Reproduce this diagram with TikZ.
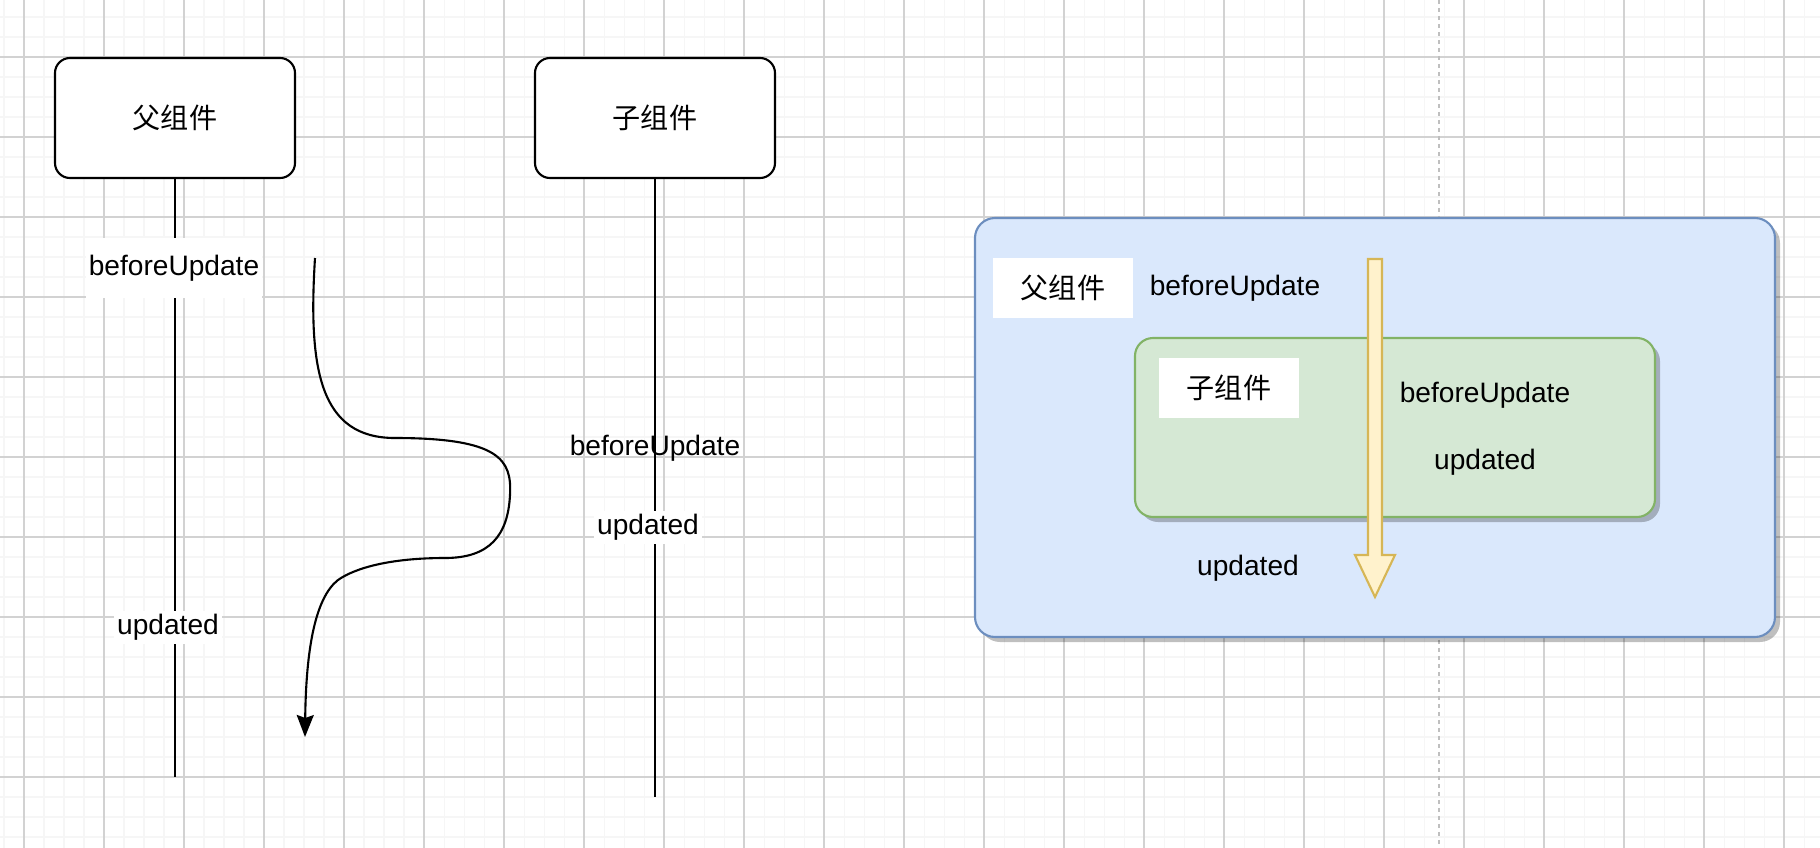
\documentclass[tikz,border=0pt]{standalone}
\usepackage{fontspec}
\setmainfont{Liberation Sans}
\newfontfamily\cjk{Noto Sans CJK SC}
\usetikzlibrary{arrows.meta,shadows}
\definecolor{bluefill}{HTML}{DAE8FC}
\definecolor{bluedraw}{HTML}{6C8EBF}
\definecolor{greenfill}{HTML}{D5E8D4}
\definecolor{greendraw}{HTML}{82B366}
\definecolor{yellowfill}{HTML}{FFF2CC}
\definecolor{yellowdraw}{HTML}{D6B656}
\tikzset{
	minorline/.style={draw=gray!7, line width=0.3pt},
	majorline/.style={draw=gray!35, line width=0.3pt},
	lifebox/.style={draw, fill=white, line width=0.6pt, rounded corners=0.15cm,
		minimum width=2.4cm, minimum height=1.2cm, font=\cjk},
	lifeline/.style={line width=0.6pt},
	lifelabel/.style={fill=white, inner xsep=0.03cm, inner ysep=0cm, minimum height=0.33cm},
	flowline/.style={line width=0.6pt, -{Stealth[length=0.22cm, width=0.17cm, inset=0.03cm]}},
	panelshadow/.style={drop shadow={shadow xshift=0.05cm, shadow yshift=-0.05cm, fill=black, opacity=0.25}},
	outerbox/.style={draw=bluedraw, fill=bluefill, line width=0.6pt, rounded corners=0.2cm,
		minimum width=8cm, minimum height=4.19cm, panelshadow},
	innerbox/.style={draw=greendraw, fill=greenfill, line width=0.6pt, rounded corners=0.18cm,
		minimum width=5.2cm, minimum height=1.79cm, panelshadow},
	tagbox/.style={fill=white, minimum width=1.4cm, minimum height=0.6cm, font=\cjk},
	flowarrow/.style={draw=yellowdraw, fill=yellowfill, line width=0.6pt}
}
\begin{document}
\fontsize{8}{9.6}\selectfont
\begin{tikzpicture}[x=1cm,y=-1cm]
		\useasboundingbox (0,0) rectangle (18.2,8.48);
		% grid
		\foreach \x in {0.04,0.24,...,18.2} \draw[minorline] (\x,0) -- (\x,8.48);
		\foreach \y in {0.17,0.37,...,8.48} \draw[minorline] (0,\y) -- (18.2,\y);
		\foreach \x in {0.24,1.04,...,18.2} \draw[majorline] (\x,0) -- (\x,8.48);
		\foreach \y in {0.57,1.37,...,8.48} \draw[majorline] (0,\y) -- (18.2,\y);
		\draw[gray!50, line width=0.6pt, dash pattern=on 0.04cm off 0.04cm] (14.39,0) -- (14.39,8.48);
		% lifelines
		\node[lifebox] (parent) at (1.75,1.18) {父组件};
		\node[lifebox] (child) at (6.55,1.18) {子组件};
		\coordinate (parentend) at (1.75,7.77);
		\coordinate (childend) at (6.55,7.97);
		\draw[lifeline] (parent) -- (parentend);
		\draw[lifeline] (child) -- (childend);
		\node[lifelabel, minimum height=0.6cm] (pbefore) at (1.74,2.68) {beforeUpdate};
		\node[lifelabel] (pupdated) at (1.68,6.27) {updated};
		\node (cbefore) at (6.55,4.48) {beforeUpdate};
		\node[lifelabel] (cupdated) at (6.48,5.27) {updated};
		% curved flow
		\coordinate (flowstart) at (3.15,2.58);
		\coordinate (flowend) at (3.05,7.37);
		\draw[flowline] (flowstart) .. controls (3.08,3.7) and (3.2,4.38) .. (3.95,4.38)
			.. controls (5.0,4.38) and (5.12,4.6) .. (5.1,4.95)
			.. controls (5.08,5.35) and (4.9,5.58) .. (4.45,5.58)
			.. controls (3.9,5.58) and (3.55,5.68) .. (3.38,5.8)
			.. controls (3.15,5.98) and (3.06,6.5) .. (flowend);
		% nested boxes
		\node[outerbox] (outer) at (13.75,4.275) {};
		\node[innerbox] (inner) at (13.95,4.275) {};
		\node[tagbox] (outertag) at (10.63,2.88) {父组件};
		\node (outerbefore) at (12.35,2.88) {beforeUpdate};
		\node[tagbox] (innertag) at (12.29,3.88) {子组件};
		\node (innerbefore) at (14.85,3.95) {beforeUpdate};
		\node (innerupdated) at (14.85,4.62) {updated};
		\node (outerupdated) at (12.48,5.68) {updated};
		% yellow arrow
		\draw[flowarrow] (13.68,2.59) -- (13.82,2.59) -- (13.82,5.55) -- (13.95,5.55)
			-- (13.75,5.97) -- (13.55,5.55) -- (13.68,5.55) -- cycle;
\end{tikzpicture}
\end{document}
